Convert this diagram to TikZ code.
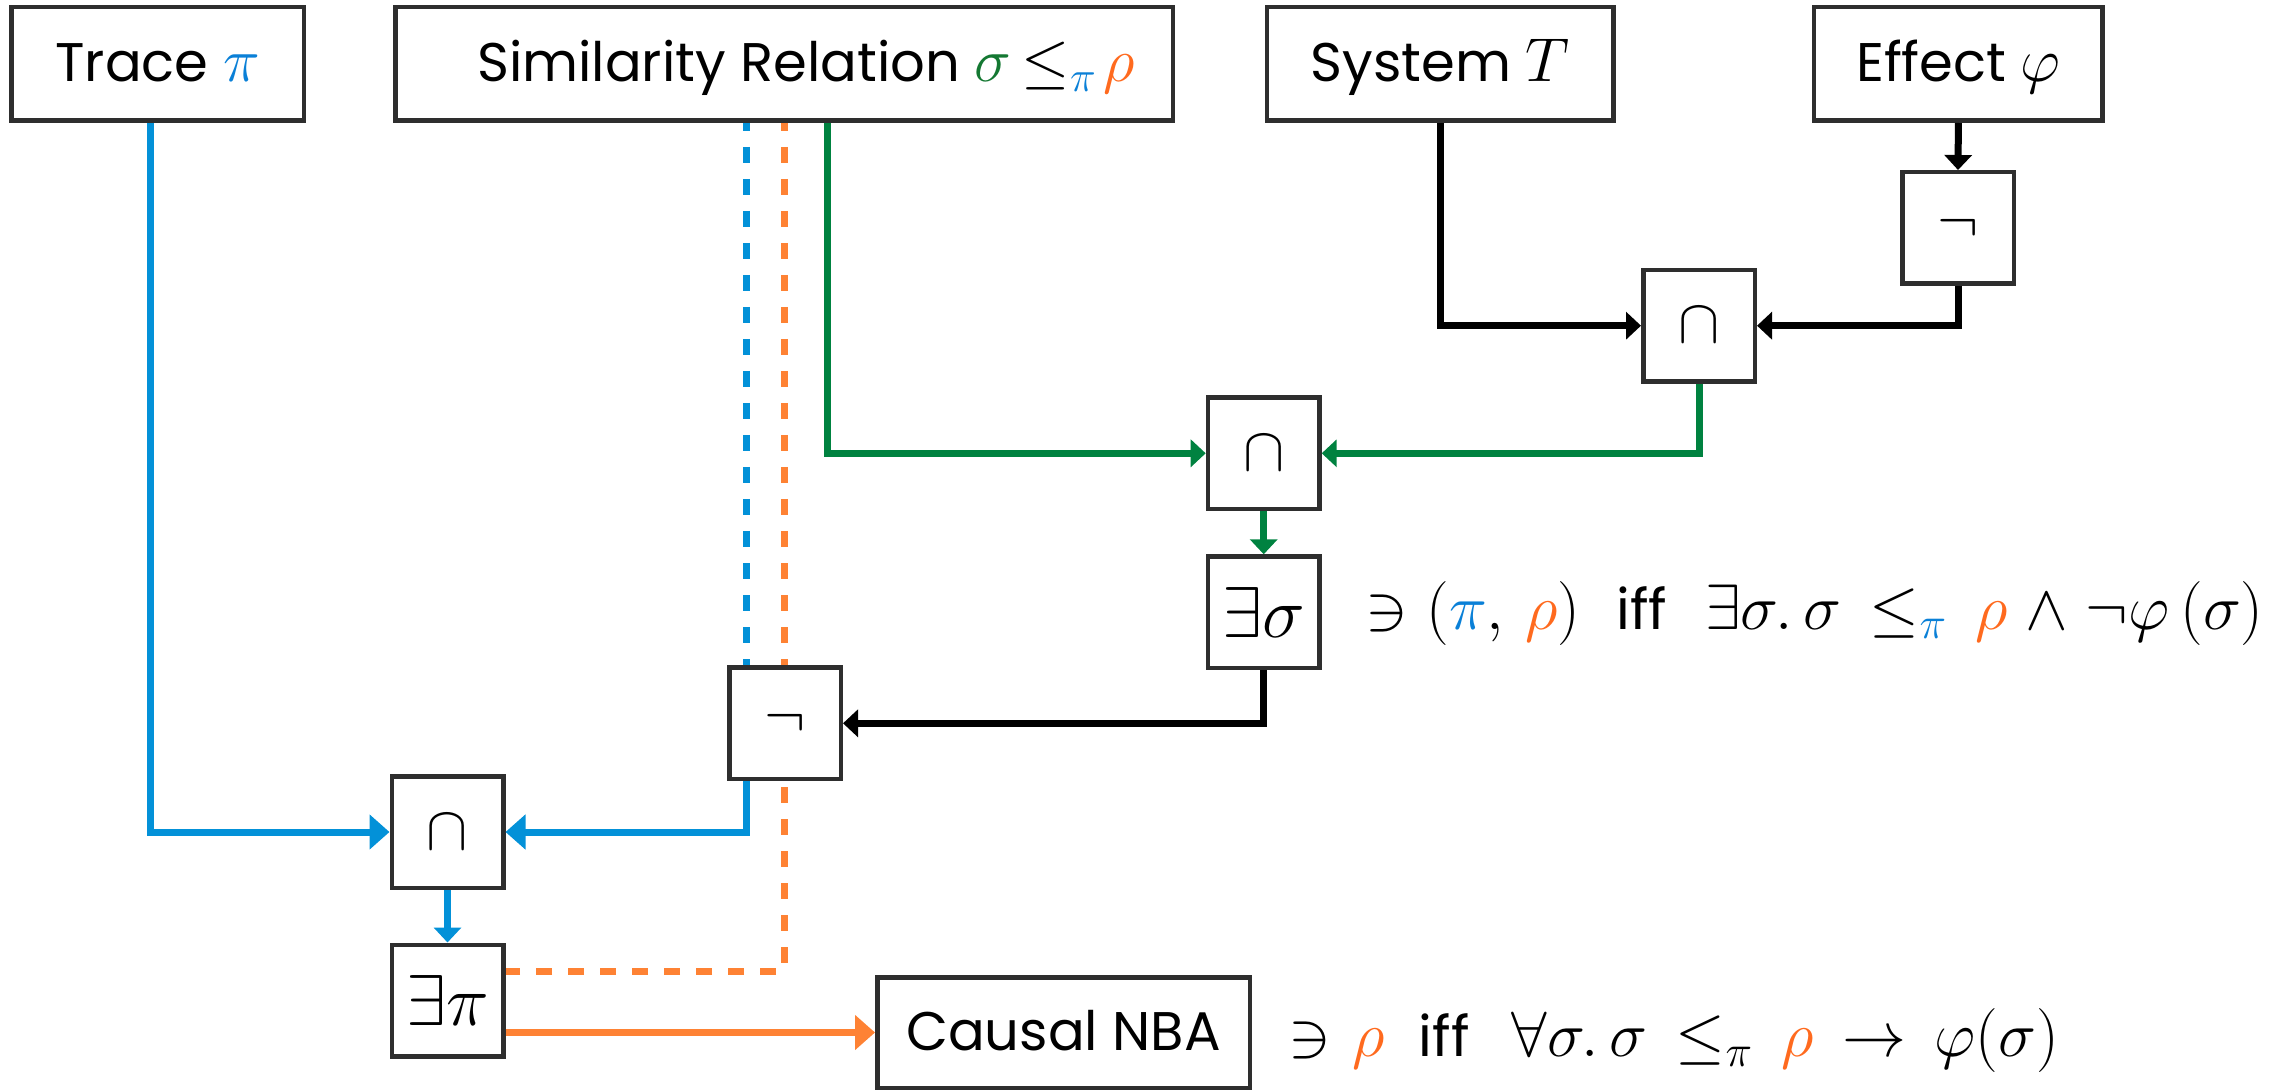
\RequirePackage{fix-cm}
\documentclass[tikz,border=0pt]{standalone}
\usepackage[no-math]{fontspec}
\setmainfont{Poppins}[Scale=0.877]
\usetikzlibrary{arrows.meta,backgrounds}

\definecolor{boxgray}{RGB}{46,46,46}
\definecolor{lblue}{RGB}{3,145,216}
\definecolor{lorange}{RGB}{254,130,52}
\definecolor{lgreen}{RGB}{0,130,64}
\definecolor{tblue}{RGB}{10,128,215}
\definecolor{torange}{RGB}{255,106,30}
\definecolor{tgreen}{RGB}{20,120,50}

\tikzset{
  box/.style={draw=boxgray, line width=2.25pt, fill=white, inner sep=0pt},
  head/.style={box, minimum height=56.75pt, text height=22pt, text depth=4pt},
  opbox/.style={box, minimum width=55.75pt, minimum height=55.75pt},
  quant/.style={font=\fontsize{36}{42}\selectfont},
  conn/.style={line width=3.5pt},
  tipS/.style={-{Triangle[length=7.5pt,width=13.5pt]}},
  tipL/.style={-{Triangle[length=10pt,width=17pt]}},
  dashpat/.style={dash pattern=on 8pt off 8pt, dash phase=4pt},
  annot/.style={anchor=base west, inner sep=0pt, font=\fontsize{32}{38}\selectfont}
}

\begin{document}
\begin{tikzpicture}[x=0.5pt, y=-0.5pt, font=\fontsize{31}{37}\selectfont]
\useasboundingbox (0,0) rectangle (2290,1090);

% input boxes along the top
\node[head, minimum width=146.25pt] (trace) at (157.5,64) {Trace ${\color{tblue}\pi}$};
\node[head, minimum width=388.75pt] (sim) at (784,64)
  {\hspace*{22pt}Similarity Relation ${\color{tgreen}\sigma}\mskip-2mu\le_{\color{tblue}\pi}\mskip-3mu{\color{torange}\rho}$};
\node[head, minimum width=173.25pt] (sys) at (1440.2,64) {System $T$};
\node[head, minimum width=144.25pt] (eff) at (1958.4,64) {Effect $\varphi$};

% operator boxes
\node[opbox] (negT) at (1958,228) {$\neg$};
\node[opbox] (capR) at (1699,325.7) {$\cap$};
\node[opbox] (capM) at (1263.7,453.3) {$\cap$};
\node[opbox, quant] (exS) at (1263.7,612.3) {$\exists\sigma$};
\node[opbox] (negM) at (785,723.3) {$\neg$};
\node[opbox] (capL) at (447.5,832) {$\cap$};
\node[opbox, quant] (exP) at (447.5,1000.5) {$\exists\pi$};

% result
\node[head, minimum width=186.25pt, minimum height=55.25pt] (nba) at (1063.5,1032.5) {Causal NBA};

% annotations
\node[annot] (ann1) at (1365.5,629)
  {\thickmuskip=8mu \medmuskip=5mu
   $\ni\mskip-3mu({\color{tblue}\pi},\mskip3mu{\color{torange}\rho})$\hspace{18pt}iff\hspace{19pt}$\exists\sigma.\,\sigma\le_{\color{tblue}\pi}{\color{torange}\rho}\wedge\neg\varphi\mskip3mu(\sigma)$};
\node[annot] (ann2) at (1288,1056.5)
  {\thickmuskip=8mu \medmuskip=5mu
   $\ni\mskip-2mu{\color{torange}\rho}$\hspace{17pt}iff\hspace{21pt}$\forall\sigma.\,\sigma\le_{\pi}{\color{torange}\rho}\to\varphi(\sigma)$};

% helper points on the relation box
\coordinate (simB) at ([xshift=-19pt]sim.south);
\coordinate (simG) at ([xshift=21.85pt]sim.south);
\coordinate (negB) at ([xshift=-19.5pt]negM.south);

% dashed orange path runs behind the boxes
\begin{pgfonlayer}{background}
  \draw[conn, lorange, dashpat] (sim.south) |- ([yshift=14.75pt]exP.east);
\end{pgfonlayer}

% connectors
\draw[conn, lblue, dashpat] (simB) -- (simB |- negM.north);
\draw[conn, lgreen, tipS] (simG) |- (capM.west);
\draw[conn, tipS] (sys.south) |- (capR.west);
\draw[conn, tipS] (eff.south) -- (negT.north);
\draw[conn, tipS] (negT.south) |- (capR.east);
\draw[conn, lgreen, tipS] (capR.south) |- (capM.east);
\draw[conn, lgreen, tipS] (capM.south) -- (exS.north);
\draw[conn, tipS] (exS.south) |- (negM.east);
\draw[conn, lblue, tipL] ([xshift=-3.75pt]trace.south) |- (capL.west);
\draw[conn, lblue, tipL] (negB) |- (capL.east);
\draw[conn, lblue, tipS] (capL.south) -- (exP.north);
\draw[conn, lorange, tipL] (exP.east |- nba.west) -- (nba.west);
\end{tikzpicture}
\end{document}
